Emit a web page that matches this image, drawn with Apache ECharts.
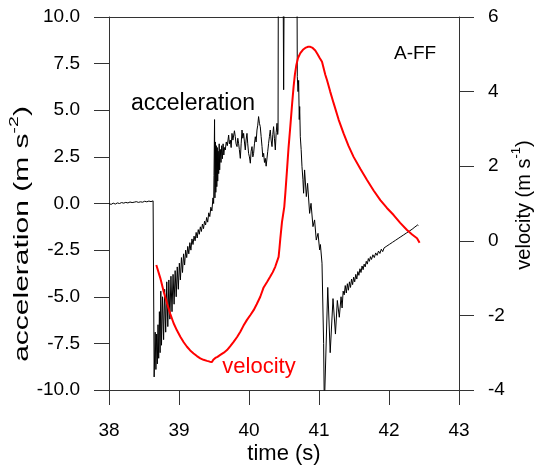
<!DOCTYPE html>
<html>
<head>
<meta charset="utf-8">
<script src="https://cdn.jsdelivr.net/npm/echarts@6/dist/echarts.min.js"></script>
<style>
html,body{margin:0;padding:0;background:#fff;}
#c{width:535px;height:470px;}
</style>
</head>
<body>
<div id="c"></div>
<script>
// ---- data (time s, acceleration m/s^2) ----
const accelPre = [[38.00,0.00],[38.03,-0.05],[38.06,0.02],[38.09,-0.03],[38.12,0.03],[38.15,0.00],[38.18,0.05],[38.21,0.02],[38.24,0.06],[38.27,0.03],[38.30,0.08],[38.33,0.05],[38.36,0.07],[38.39,0.10],[38.42,0.06],[38.45,0.09],[38.48,0.07],[38.51,0.12],[38.54,0.09],[38.57,0.13],[38.60,0.10],[38.63,0.14],[38.64,0.12]];
const accelRise = [[38.645,-9.3],[38.660,-6.9],[38.670,-8.9],[38.680,-7.0],[38.690,-8.6],[38.700,-6.5],[38.710,-8.3],[38.720,-5.8],[38.730,-8.0],[38.740,-4.7],[38.750,-7.6],[38.765,-5.0],[38.780,-7.3],[38.795,-4.6],[38.810,-6.9],[38.825,-4.2],[38.840,-6.6],[38.855,-4.1],[38.870,-6.2],[38.885,-3.9],[38.900,-5.8],[38.915,-3.8],[38.930,-5.4],[38.945,-3.6],[38.960,-5.0],[38.975,-3.4],[38.990,-4.6],[39.005,-3.2],[39.020,-4.1],[39.035,-2.9],[39.050,-3.7],[39.065,-2.7],[39.080,-3.3],[39.095,-2.5],[39.110,-2.9],[39.125,-2.3],[39.140,-2.7],[39.155,-2.1],[39.170,-2.5],[39.185,-1.9],[39.200,-2.2],[39.215,-1.75],[39.230,-2.0],[39.245,-1.55],[39.260,-1.85],[39.275,-1.4],[39.290,-1.65],[39.305,-1.25],[39.320,-1.5],[39.335,-1.1],[39.350,-1.35],[39.365,-0.95],[39.380,-1.15],[39.395,-0.75],[39.410,-1.0],[39.425,-0.5],[39.440,-0.7],[39.455,-0.2],[39.470,-0.4],[39.485,0.3],[39.495,0.0]];
const accelPlateau = [[39.500,1.5],[39.508,4.5],[39.513,0.3],[39.520,3.3],[39.526,0.6],[39.533,3.1],[39.540,0.9],[39.547,3.0],[39.553,1.2],[39.560,2.8],[39.567,1.6],[39.574,3.2],[39.581,1.8],[39.590,2.9],[39.600,2.2],[39.610,3.1],[39.620,2.4],[39.630,3.2],[39.640,2.6],[39.650,3.0],[39.661,2.87],[39.675,3.3],[39.690,3.1],[39.709,3.67],[39.720,3.2],[39.733,3.4],[39.745,3.0],[39.757,3.76],[39.770,3.4],[39.780,3.31],[39.792,3.9],[39.804,3.58],[39.815,3.2],[39.829,3.05],[39.840,3.5],[39.851,3.23],[39.862,2.9],[39.876,2.42],[39.888,3.2],[39.900,3.94],[39.912,3.5],[39.923,3.76],[39.935,3.3],[39.947,2.87],[39.958,3.4],[39.971,3.76],[39.982,3.2],[39.994,2.69],[40.006,2.5],[40.019,2.16],[40.030,2.8],[40.043,3.05],[40.055,2.5],[40.066,2.69],[40.078,3.2],[40.090,3.58],[40.102,3.3],[40.114,3.94],[40.125,4.2],[40.137,4.66],[40.149,4.3],[40.161,4.12],[40.173,3.6],[40.186,3.05],[40.197,2.5],[40.209,2.69],[40.221,2.2],[40.233,2.42],[40.245,2.0],[40.257,2.06],[40.268,2.8],[40.280,3.23],[40.292,3.6],[40.304,3.94],[40.316,3.4],[40.329,3.05],[40.340,3.7],[40.351,4.12],[40.363,3.5],[40.376,2.87],[40.388,3.8],[40.400,4.3],[40.410,3.7],[40.415,3.94]];
const accelPeak = [[40.420,14],[40.450,14],[40.485,14],[40.495,6.1],[40.505,14],[40.600,14],[40.684,14],[40.690,6.8],[40.700,6.0],[40.709,6.6],[40.718,4.5],[40.724,5.2],[40.733,3.58],[40.745,2.9],[40.757,1.97],[40.770,1.3],[40.780,0.55],[40.794,1.8],[40.819,0.37],[40.837,1.08],[40.866,-0.53],[40.886,0.01],[40.914,-1.24],[40.937,-0.88],[40.961,-1.96],[40.986,-1.6],[41.009,-2.49],[41.020,-2.2],[41.043,-3.2],[41.066,-7.5],[41.076,-11]];
const accelRecover = [[41.125,-4.5],[41.160,-8.0],[41.200,-5.1],[41.235,-7.0],[41.262,-5.2],[41.290,-6.1],[41.315,-5.0],[41.330,-5.6],[41.345,-4.7],[41.360,-4.9],[41.375,-4.4],[41.390,-4.8],[41.405,-4.3],[41.420,-4.65],[41.435,-4.2],[41.450,-4.5],[41.465,-4.05],[41.480,-4.35],[41.495,-3.95],[41.510,-4.2],[41.525,-3.8],[41.540,-4.05],[41.555,-3.65],[41.570,-3.85],[41.585,-3.5],[41.600,-3.7],[41.615,-3.35],[41.630,-3.55],[41.645,-3.25],[41.660,-3.4],[41.675,-3.1],[41.690,-3.25],[41.705,-2.95],[41.720,-3.1],[41.735,-2.85],[41.750,-3.0],[41.770,-2.75],[41.790,-2.9],[41.810,-2.65],[41.830,-2.78],[41.850,-2.55],[41.870,-2.68],[41.890,-2.45],[41.910,-2.58],[41.930,-2.38],[41.950,-2.48],[41.970,-2.28],[41.990,-2.38],[42.010,-2.18],[42.030,-2.28],[42.050,-2.08],[42.070,-2.18],[42.090,-1.98],[42.110,-2.06],[42.130,-1.88],[42.150,-1.96],[42.170,-1.78],[42.190,-1.86],[42.210,-1.68],[42.230,-1.76],[42.250,-1.58],[42.270,-1.65],[42.290,-1.48],[42.310,-1.54],[42.330,-1.38],[42.350,-1.42],[42.370,-1.26],[42.390,-1.30],[42.410,-1.15],[42.420,-1.18]];
// ---- data (time s, velocity m/s) ----
const velocity = [[38.676,-0.65],[38.733,-1.0],[38.78,-1.35],[38.829,-1.68],[38.875,-1.96],[38.923,-2.21],[38.97,-2.40],[39.019,-2.57],[39.067,-2.72],[39.114,-2.84],[39.16,-2.94],[39.209,-3.02],[39.256,-3.09],[39.304,-3.15],[39.35,-3.19],[39.4,-3.22],[39.44,-3.24],[39.471,-3.25],[39.49,-3.19],[39.519,-3.14],[39.55,-3.11],[39.59,-3.06],[39.64,-3.00],[39.686,-2.93],[39.73,-2.83],[39.78,-2.71],[39.83,-2.58],[39.876,-2.44],[39.92,-2.28],[39.971,-2.12],[40.02,-1.99],[40.066,-1.86],[40.11,-1.7],[40.161,-1.5],[40.209,-1.25],[40.26,-1.1],[40.304,-0.96],[40.34,-0.84],[40.376,-0.69],[40.423,-0.43],[40.435,-0.2],[40.447,0.05],[40.471,0.5],[40.504,0.91],[40.52,1.3],[40.543,1.9],[40.565,2.5],[40.59,3.06],[40.615,3.65],[40.637,4.13],[40.655,4.45],[40.676,4.71],[40.70,4.9],[40.733,5.03],[40.77,5.12],[40.804,5.17],[40.84,5.2],[40.876,5.2],[40.91,5.17],[40.947,5.1],[40.98,5.0],[41.01,4.9],[41.043,4.8],[41.07,4.6],[41.09,4.45],[41.114,4.31],[41.16,4.0],[41.209,3.69],[41.28,3.25],[41.351,2.88],[41.42,2.55],[41.494,2.25],[41.59,1.93],[41.686,1.63],[41.78,1.35],[41.876,1.09],[41.97,0.88],[42.066,0.69],[42.16,0.48],[42.257,0.29],[42.33,0.17],[42.4,0.07],[42.437,-0.05]];
// ---- axes ----
const timeTicks = [38, 39, 40, 41, 42, 43];
const accelRange = [-10, 10, 2.5];
const velRange = [-4, 6, 2];

const FONT = '"Liberation Sans", Arial, Helvetica, sans-serif';
const AX = '#333';
const accel = accelPre.concat(accelRise, accelPlateau, accelPeak, accelRecover);

const chart = echarts.init(document.getElementById('c'), null, {renderer: 'canvas'});
chart.setOption({
  animation: false,
  backgroundColor: '#fff',
  grid: {left: 109, top: 17, right: 76, bottom: 80, containLabel: false},
  xAxis: [{
    type: 'value', min: timeTicks[0], max: timeTicks[timeTicks.length - 1], interval: 1, position: 'bottom',
    axisLine: {onZero: false, lineStyle: {color: AX, width: 1}},
    axisTick: {show: true, inside: false, length: 15, lineStyle: {color: AX}},
    axisLabel: {fontSize: 19, color: '#000', fontFamily: FONT, margin: 31},
    splitLine: {show: false}
  }, {
    type: 'value', min: timeTicks[0], max: timeTicks[timeTicks.length - 1], position: 'top',
    axisLine: {show: true, onZero: false, lineStyle: {color: AX, width: 1}},
    axisTick: {show: false}, axisLabel: {show: false}, splitLine: {show: false}
  }],
  yAxis: [{
    type: 'value', min: accelRange[0], max: accelRange[1], interval: accelRange[2], position: 'left',
    axisLine: {show: true, onZero: false, lineStyle: {color: AX, width: 1}},
    axisTick: {show: true, inside: false, length: 15, lineStyle: {color: AX}},
    axisLabel: {fontSize: 19, color: '#000', fontFamily: FONT, margin: 29, formatter: v => v.toFixed(1)},
    splitLine: {show: false}
  }, {
    type: 'value', min: velRange[0], max: velRange[1], interval: velRange[2], position: 'right',
    axisLine: {show: true, onZero: false, lineStyle: {color: AX, width: 1}},
    axisTick: {show: true, inside: false, length: 15, lineStyle: {color: AX}},
    axisLabel: {fontSize: 19, color: '#000', fontFamily: FONT, margin: 29},
    splitLine: {show: false}
  }],
  series: [{
    name: 'acceleration', type: 'line', xAxisIndex: 0, yAxisIndex: 0,
    data: accel, showSymbol: false, symbol: 'none', clip: true,
    lineStyle: {color: '#000', width: 1}
  }, {
    name: 'velocity', type: 'line', xAxisIndex: 0, yAxisIndex: 1,
    data: velocity, showSymbol: false, symbol: 'none', clip: true,
    lineStyle: {color: '#ff0000', width: 2}
  }],
  graphic: [
    {type: 'text', x: 193, y: 104, style: {text: 'acceleration', fontSize: 23, fontFamily: FONT, fill: '#000', align: 'center', verticalAlign: 'middle'}},
    {type: 'text', x: 259, y: 367, style: {text: 'velocity', fontSize: 22, fontFamily: FONT, fill: '#ff0000', align: 'center', verticalAlign: 'middle'}},
    {type: 'text', x: 394, y: 54, style: {text: 'A-FF', fontSize: 19, fontFamily: FONT, fill: '#000', align: 'left', verticalAlign: 'middle'}},
    {type: 'text', x: 284, y: 454, style: {text: 'time (s)', fontSize: 22, fontFamily: FONT, fill: '#000', align: 'center', verticalAlign: 'middle'}},
    {type: 'text', x: 22, y: 234, rotation: Math.PI / 2, scaleX: 1.5, style: {
      text: '{n|acceleration (m s}{s|-2}{n|)}', align: 'center', verticalAlign: 'middle', fill: '#000',
      rich: {n: {fontSize: 20, fontFamily: FONT, lineHeight: 28, fill: '#000'}, s: {fontSize: 13, fontFamily: FONT, lineHeight: 14, verticalAlign: 'top', fill: '#000'}}
    }},
    {type: 'text', x: 524, y: 205, rotation: Math.PI / 2, style: {
      text: '{n|velocity (m s}{s|-1}{n|)}', align: 'center', verticalAlign: 'middle', fill: '#000',
      rich: {n: {fontSize: 20, fontFamily: FONT, lineHeight: 28, fill: '#000'}, s: {fontSize: 13, fontFamily: FONT, lineHeight: 14, verticalAlign: 'top', fill: '#000'}}
    }}
  ]
});
</script>
</body>
</html>
